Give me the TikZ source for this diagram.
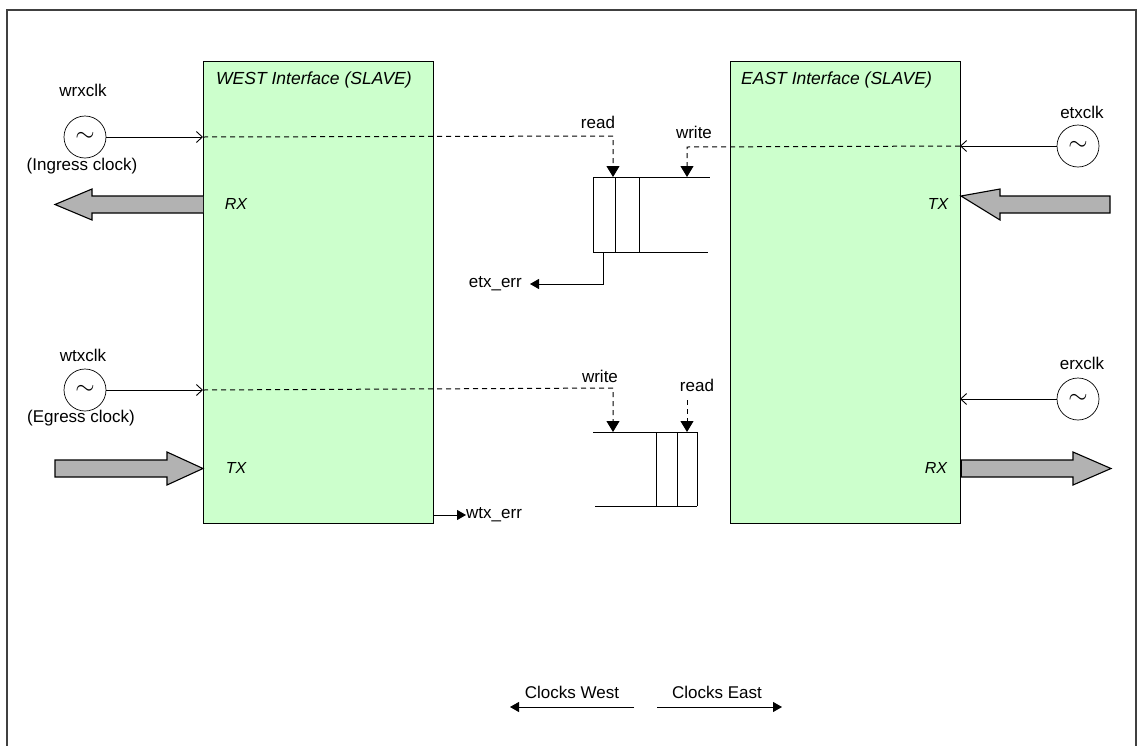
\documentclass[tikz,border=0pt]{standalone}
\usepackage{fontspec}
\setmainfont{Liberation Sans}
\usetikzlibrary{arrows.meta}
\definecolor{boxgreen}{HTML}{CCFFCC}
\definecolor{arrowgray}{HTML}{B2B2B2}
\definecolor{framegray}{HTML}{404040}
\begin{document}
\begin{tikzpicture}[x=1pt,y=-1pt,
  font=\fontsize{17}{19}\selectfont,
  ifbox/.style={draw=black, line width=1.2pt, fill=boxgreen, anchor=north west,
    minimum width=230pt, minimum height=462pt, inner sep=0pt},
  clk/.style={circle, draw=black, line width=0.7pt, minimum size=42pt, inner sep=0pt},
  fat/.style={draw=black, line width=1.1pt, fill=arrowgray, line join=miter},
  sig/.style={draw=black, line width=0.9pt},
  dsh/.style={draw=black, line width=1pt, dash pattern=on 5pt off 4pt},
  tri/.style={-{Triangle[length=11pt,width=13pt]}},
  smalltri/.style={-{Triangle[length=9pt,width=10pt]}},
  barb/.style={-{Straight Barb[length=6pt,width=11pt,line width=0.9pt]}},
  lbl/.style={inner sep=0pt},
  itl/.style={inner sep=0pt, font=\fontsize{16}{18}\selectfont\itshape},
  ttl/.style={inner sep=0pt, font=\fontsize{17.5}{19}\selectfont\itshape},
]
\useasboundingbox (0,0) rectangle (1138,745);
\fill[white] (0,0) rectangle (1138,745);
% outer frame (bottom edge outside the picture)
\draw[framegray, line width=2pt] (7,760) -- (7,10) -- (1136,10) -- (1136,760);

% interface boxes
\node[ifbox] (west) at (203,61) {};
\node[ifbox] (east) at (730,61) {};
\node[ttl, anchor=west] (wtitle) at (216,80) {WEST Interface (SLAVE)};
\node[ttl, anchor=west] (etitle) at (741,80) {EAST Interface (SLAVE)};
\node[itl] (wrx) at (236,204) {RX};
\node[itl] (wtx) at (236,468) {TX};
\node[itl] (etx) at (938,204) {TX};
\node[itl] (erx) at (936,468) {RX};

% clocks
\newcommand{\clksym}{\fontsize{34}{34}\selectfont$\sim$}
\node[clk] (cwrx) at (85,137) {\clksym};
\node[lbl] (lwrx) at (83,90) {wrxclk};
\node[lbl] (iwrx) at (82,166) {(Ingress clock)};
\node[clk] (cwtx) at (85,390) {\clksym};
\node[lbl] (lwtx) at (83,355) {wtxclk};
\node[lbl] (iwtx) at (81,418) {(Egress clock)};
\node[clk] (cetx) at (1078,146) {\clksym};
\node[lbl] (letx) at (1082,112) {etxclk};
\node[clk] (cerx) at (1078,399) {\clksym};
\node[lbl] (lerx) at (1082,363) {erxclk};

% clock arrows into the boxes
\coordinate (wrxin) at (203,137);
\coordinate (wtxin) at (203,390);
\coordinate (etxin) at (960,146);
\coordinate (erxin) at (960,399);
\draw[sig, barb] (cwrx.east) -- (wrxin);
\draw[sig, barb] (cwtx.east) -- (wtxin);
\draw[sig, barb] (cetx.west) -- (etxin);
\draw[sig, barb] (cerx.west) -- (erxin);

% upper FIFO (west RX side)
\coordinate (f1tl) at (593,177);
\coordinate (f1bl) at (593,252);
\draw[sig] (f1tl) -- (710,177);
\draw[sig] (f1bl) -- (708,252);
\draw[sig] (f1tl) -- (f1bl);
\draw[sig] (615,177) -- (615,252);
\draw[sig] (639,177) -- (639,252);
\coordinate (rd1) at (613,177);
\coordinate (wr1) at (687,177);
\node[lbl] (lrd1) at (598,122) {read};
\node[lbl] (lwr1) at (694,132) {write};
\draw[dsh] (wrxin) -- (613,136) -- (613,168);
\draw[tri, sig] (613,166) -- (rd1);
\draw[dsh] (etxin) -- (687,147) -- (687,168);
\draw[tri, sig] (687,166) -- (wr1);
\node[lbl, anchor=east] (etxerr) at (522,284) {etx\_err};
\draw[sig, smalltri] (603,252) -- (603,284) -- (530,284);

% lower FIFO (west TX side)
\draw[sig] (593,432) -- (697,432);
\draw[sig] (595,506) -- (697,506);
\draw[sig] (656,432) -- (656,506);
\draw[sig] (677,432) -- (677,506);
\draw[sig] (697,432) -- (697,506);
\coordinate (wr2) at (613,432);
\coordinate (rd2) at (687,432);
\node[lbl] (lwr2) at (600,376) {write};
\node[lbl] (lrd2) at (697,385) {read};
\draw[dsh] (wtxin) -- (613,388) -- (613,423);
\draw[tri, sig] (613,421) -- (wr2);
\draw[dsh] (687,400) -- (687,423);
\draw[tri, sig] (687,421) -- (rd2);
\coordinate (wtxo) at (433,515);
\node[lbl, anchor=west] (wtxerr) at (466,515) {wtx\_err};
\draw[sig, smalltri] (wtxo) -- (wtxerr.west);

% fat data arrows
\draw[fat] (203,196) -- (92,196) -- (92,189) -- (55,204.5) -- (92,220) -- (92,213) -- (203,213);
\draw[fat] (55,460) -- (167,460) -- (167,452) -- (203,468.5) -- (167,485) -- (167,477) -- (55,477) -- cycle;
\draw[fat] (961,196) -- (1000,189) -- (1000,196) -- (1110,196) -- (1110,213) -- (1000,213) -- (1000,220) -- cycle;
\draw[fat] (961,460) -- (1073,460) -- (1073,452) -- (1111,468.5) -- (1073,485) -- (1073,477) -- (961,477);
\draw[black, line width=2.5pt] (961,460) -- (961,477);

% legend
\coordinate (cwa) at (634,707);
\coordinate (cwb) at (510,707);
\coordinate (cea) at (657,707);
\coordinate (ceb) at (782,707);
\draw[sig, smalltri] (cwa) -- (cwb);
\draw[sig, smalltri] (cea) -- (ceb);
\node[lbl] (lcw) at (572,692) {Clocks West};
\node[lbl] (lce) at (717,692) {Clocks East};
\end{tikzpicture}
\end{document}
